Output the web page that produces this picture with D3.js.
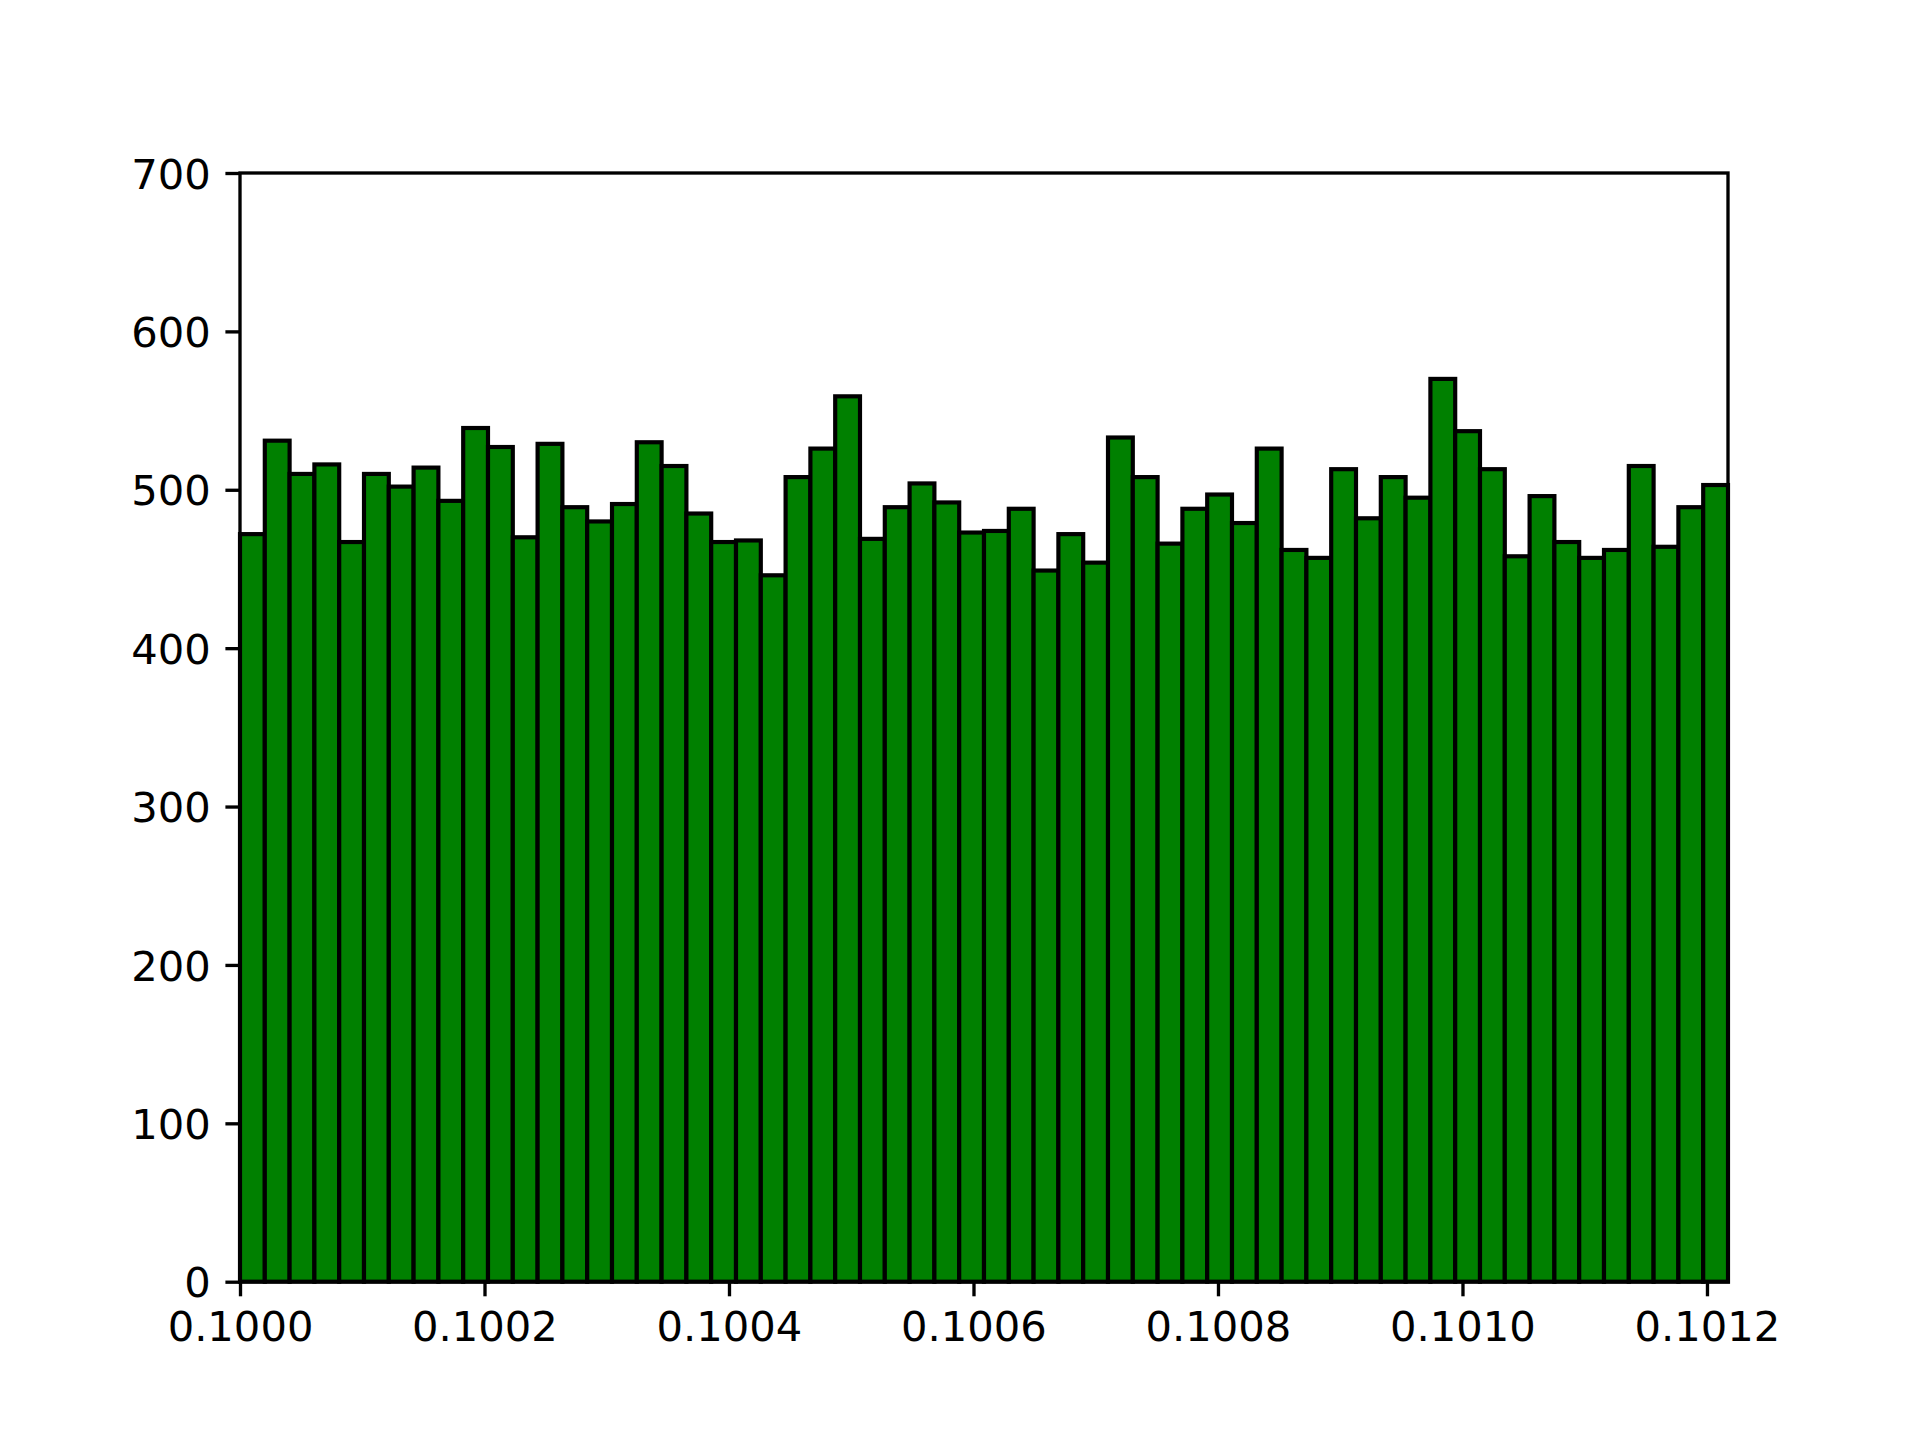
<!DOCTYPE html>
<html>
<head>
<meta charset="utf-8">
<script src="https://cdn.jsdelivr.net/npm/d3@7"></script>
<style>
  html, body { margin: 0; padding: 0; background: #ffffff; }
  svg { display: block; }
</style>
</head>
<body>
<svg id="chart" width="1920" height="1440"></svg>
<script>
// ---- data ----
const binStart = 0.1;
const binEnd = 0.1012172;
const counts = [472, 531, 510, 516, 467, 510, 502, 514, 493, 539,
                527, 470, 529, 489, 480, 491, 530, 515, 485, 467,
                468, 446, 508, 526, 559, 469, 489, 504, 492, 473,
                474, 488, 449, 472, 454, 533, 508, 466, 488, 497,
                479, 526, 462, 457, 513, 482, 508, 495, 570, 537,
                513, 458, 496, 467, 457, 462, 515, 464, 489, 503];
const xTicks = [0.1000, 0.1002, 0.1004, 0.1006, 0.1008, 0.1010, 0.1012];
const yTicks = [0, 100, 200, 300, 400, 500, 600, 700];
const yMax = 700;

// ---- layout ----
const W = 1920, H = 1440;
const mLeft = 240, mRight = 1728, mTop = 173, mBottom = 1281.7;
const fontSize = 41.67;
const tickLen = 14.6, tickPad = 14.6, spineW = 3.33;

const svg = d3.select("#chart");
svg.append("rect").attr("width", W).attr("height", H).attr("fill", "#fff");

const x = d3.scaleLinear().domain([binStart, binEnd]).range([mLeft, mRight]);
const y = d3.scaleLinear().domain([0, yMax]).range([mBottom, mTop]);

const nb = counts.length;
const bw = (binEnd - binStart) / nb;
const bins = counts.map((c, i) => ({x0: binStart + i * bw, x1: binStart + (i + 1) * bw, c}));

svg.append("g").selectAll("rect").data(bins).join("rect")
  .attr("x", d => x(d.x0))
  .attr("y", d => y(d.c))
  .attr("width", d => x(d.x1) - x(d.x0))
  .attr("height", d => y(0) - y(d.c))
  .attr("fill", "#008000")
  .attr("stroke", "#000")
  .attr("stroke-width", 4.17);

// spines
const sp = svg.append("g").attr("stroke", "#000").attr("stroke-width", spineW).attr("fill", "none");
sp.append("rect").attr("x", mLeft).attr("y", mTop).attr("width", mRight - mLeft).attr("height", mBottom - mTop)
  .attr("stroke-linejoin", "miter");

// x axis
const xAxis = d3.axisBottom(x).tickValues(xTicks).tickFormat(d3.format(".4f"))
  .tickSize(tickLen).tickPadding(tickPad);
const gx = svg.append("g").attr("transform", `translate(0,${mBottom})`).call(xAxis);
gx.select(".domain").remove();
gx.selectAll(".tick line").attr("stroke", "#000").attr("stroke-width", spineW);
gx.selectAll(".tick text").attr("fill", "#000")
  .style("font-family", "'DejaVu Sans'").style("font-size", fontSize + "px")
  .attr("dy", "0.729em");

// y axis
const yAxis = d3.axisLeft(y).tickValues(yTicks).tickFormat(d3.format("d"))
  .tickSize(tickLen).tickPadding(tickPad);
const gy = svg.append("g").attr("transform", `translate(${mLeft},0)`).call(yAxis);
gy.select(".domain").remove();
gy.selectAll(".tick line").attr("stroke", "#000").attr("stroke-width", spineW);
gy.selectAll(".tick text").attr("fill", "#000")
  .style("font-family", "'DejaVu Sans'").style("font-size", fontSize + "px")
  .attr("dy", "0.3645em");
</script>
</body>
</html>
